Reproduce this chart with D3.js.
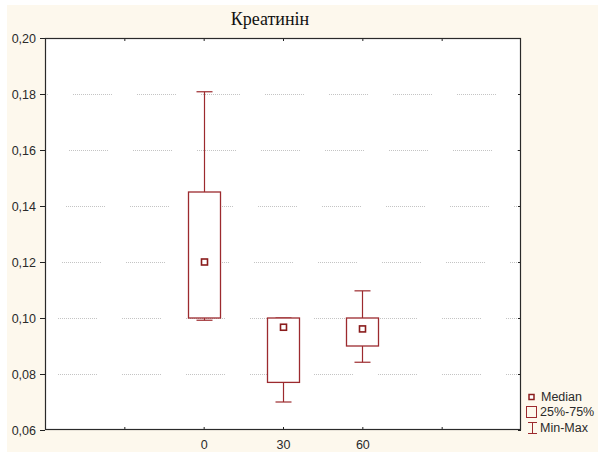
<!DOCTYPE html>
<html>
<head>
<meta charset="utf-8">
<script src="https://cdn.jsdelivr.net/npm/d3@7"></script>
<style>
  html, body { margin: 0; padding: 0; background: #ffffff; }
  svg { display: block; }
  .serif { font-family: "Liberation Serif", "DejaVu Serif", "Times New Roman", serif; }
  .sans { font-family: "Liberation Sans", Arial, sans-serif; }
</style>
</head>
<body>
<svg id="chart" width="598" height="452"></svg>
<script>
// ---- data ----
const title = "Креатинін";
const slots = ["_l", "0", "30", "60", "_r"];
const groups = ["0", "30", "60"];
const mins    = [0.0992, 0.0700, 0.0842];
const q1s     = [0.1000, 0.0770, 0.0900];
const medians = [0.1200, 0.0967, 0.0961];
const q3s     = [0.1450, 0.1000, 0.1000];
const maxs    = [0.1808, 0.1000, 0.1097];
const yTicks  = [0.06, 0.08, 0.10, 0.12, 0.14, 0.16, 0.18, 0.20];
const gridValues = [0.08, 0.10, 0.12, 0.14, 0.16, 0.18];
const legendLabels = ["Median", "25%-75%", "Min-Max"];

// ---- layout ----
const W = 598, H = 452;
const plot = { left: 45, top: 38, right: 521, bottom: 430 };
const boxColor = "#9c2a2e";
const textColor = "#2a2a2a";

const svg = d3.select("#chart");

// background
svg.append("rect").attr("x", 0).attr("y", 0).attr("width", W).attr("height", H).attr("fill", "#ffffff");
svg.append("rect").attr("x", 7).attr("y", 5).attr("width", W - 7).attr("height", H - 5).attr("fill", "#fdf8ed");
svg.append("rect").attr("x", plot.left).attr("y", plot.top)
  .attr("width", plot.right - plot.left).attr("height", plot.bottom - plot.top).attr("fill", "#ffffff");

const x = d3.scalePoint().domain(slots).range([plot.left, plot.right]).padding(1);
const y = d3.scaleLinear().domain([0.06, 0.20]).range([plot.bottom, plot.top]);

// gridlines: long dotted dashes
const gridOffsets = {0.08: 60, 0.10: 60, 0.12: 64, 0.14: 68, 0.16: 71, 0.18: 75};
const dotted = [];
for (let i = 0; i < 20; i++) { dotted.push(1, 1); }
dotted.push(0, 24);
const grid = svg.append("g");
gridValues.forEach(v => {
  const start = gridOffsets[v];
  grid.append("line")
    .attr("x1", plot.left + 1).attr("x2", plot.right - 1)
    .attr("y1", Math.round(y(v)) + 0.5).attr("y2", Math.round(y(v)) + 0.5)
    .attr("stroke", "#c4c4c4").attr("stroke-width", 1)
    .attr("stroke-dasharray", dotted.join(","))
    .attr("stroke-dashoffset", -(start - plot.left - 1) + 65 * 2);
});

// axes
const fmt = d => d3.format(".2f")(d).replace(".", ",");
const yAxis = d3.axisLeft(y).tickValues(yTicks).tickFormat(fmt).tickSize(5).tickPadding(4);
const gy = svg.append("g").attr("transform", `translate(${plot.left},0)`).call(yAxis);
gy.attr("font-family", null);
gy.select(".domain").remove();
gy.selectAll(".tick line").attr("stroke", "#222");
gy.selectAll(".tick text").attr("fill", textColor).attr("class", "sans").attr("font-size", 12.5);

const yAxisR = d3.axisLeft(y).tickValues(yTicks).tickFormat("").tickSize(3);
const gyr = svg.append("g").attr("transform", `translate(${plot.right},0)`).call(yAxisR);
gyr.select(".domain").remove();
gyr.selectAll(".tick line").attr("stroke", "#222");

const xAxis = d3.axisBottom(x).tickSize(-3).tickPadding(10)
  .tickFormat(d => d.startsWith("_") ? "" : d);
const gx = svg.append("g").attr("transform", `translate(0,${plot.bottom})`).call(xAxis);
gx.attr("font-family", null);
gx.select(".domain").remove();
gx.selectAll(".tick line").attr("stroke", "#222");
gx.selectAll(".tick text").attr("fill", textColor).attr("class", "sans").attr("font-size", 12.5);

const xAxisT = d3.axisTop(x).tickSize(-3).tickFormat("");
const gxt = svg.append("g").attr("transform", `translate(0,${plot.top})`).call(xAxisT);
gxt.select(".domain").remove();
gxt.selectAll(".tick line").attr("stroke", "#222");

// boxes
const boxW = 32, capW = 16, medS = 6;
const g = svg.append("g");
groups.forEach((k, i) => {
  const cx = Math.round(x(k)) + 0.5;
  g.append("line").attr("x1", cx).attr("x2", cx).attr("y1", y(maxs[i])).attr("y2", y(q3s[i]))
    .attr("stroke", boxColor).attr("stroke-width", 1.2);
  g.append("line").attr("x1", cx).attr("x2", cx).attr("y1", y(q1s[i])).attr("y2", y(mins[i]))
    .attr("stroke", boxColor).attr("stroke-width", 1.2);
  g.append("line").attr("x1", cx - capW / 2).attr("x2", cx + capW / 2).attr("y1", y(maxs[i])).attr("y2", y(maxs[i]))
    .attr("stroke", boxColor).attr("stroke-width", 1.2);
  g.append("line").attr("x1", cx - capW / 2).attr("x2", cx + capW / 2).attr("y1", y(mins[i])).attr("y2", y(mins[i]))
    .attr("stroke", boxColor).attr("stroke-width", 1.2);
  g.append("rect").attr("x", cx - boxW / 2).attr("y", y(q3s[i]))
    .attr("width", boxW).attr("height", y(q1s[i]) - y(q3s[i]))
    .attr("fill", "#ffffff").attr("stroke", boxColor).attr("stroke-width", 1.3);
  g.append("rect").attr("x", cx - medS / 2).attr("y", y(medians[i]) - medS / 2)
    .attr("width", medS).attr("height", medS)
    .attr("fill", "#ffffff").attr("stroke", "#8a1c1c").attr("stroke-width", 1.6);
});

// frame
svg.append("rect").attr("x", plot.left + 0.5).attr("y", plot.top + 0.5)
  .attr("width", plot.right - plot.left - 1).attr("height", plot.bottom - plot.top - 1)
  .attr("fill", "none").attr("stroke", "#2a2a2a").attr("stroke-width", 1.2);

// title
svg.append("text").attr("class", "serif").attr("x", 270).attr("y", 25).attr("text-anchor", "middle")
  .attr("font-size", 18).attr("fill", "#111").text(title);

// legend
const lg = svg.append("g").attr("class", "sans").attr("font-size", 12.5).attr("fill", textColor);
const ly = [397, 412, 428];
lg.append("rect").attr("x", 529).attr("y", ly[0] - 2.5).attr("width", 5).attr("height", 5)
  .attr("fill", "#fff").attr("stroke", "#8a1c1c").attr("stroke-width", 1.5);
lg.append("rect").attr("x", 526.5).attr("y", ly[1] - 5.5).attr("width", 10).attr("height", 11)
  .attr("fill", "none").attr("stroke", boxColor).attr("stroke-width", 1);
lg.append("line").attr("x1", 532.5).attr("x2", 532.5).attr("y1", ly[2] - 5.5).attr("y2", ly[2] + 5.5).attr("stroke", boxColor);
lg.append("line").attr("x1", 528).attr("x2", 537).attr("y1", ly[2] - 5.5).attr("y2", ly[2] - 5.5).attr("stroke", boxColor);
lg.append("line").attr("x1", 528).attr("x2", 537).attr("y1", ly[2] + 5.5).attr("y2", ly[2] + 5.5).attr("stroke", boxColor);
legendLabels.forEach((t, i) => {
  lg.append("text").attr("x", i === 0 ? 541 : 540).attr("y", ly[i]).attr("dy", "0.35em").text(t);
});
</script>
</body>
</html>
